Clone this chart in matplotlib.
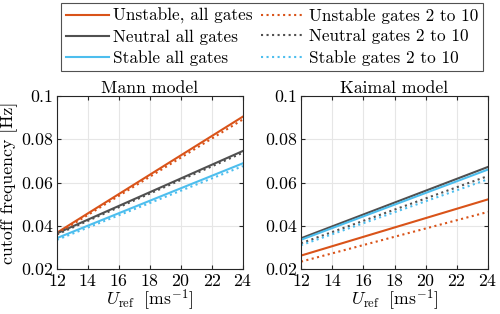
import numpy as np
import matplotlib.pyplot as plt
from matplotlib.lines import Line2D

# Wind speed range [m/s]
U_ref = [12, 24]

# Mann model cutoff frequencies [Hz]
mann_unstable_all = [0.0368, 0.0905]
mann_unstable_2to10 = [0.0362, 0.0892]
mann_neutral_all = [0.0365, 0.0746]
mann_neutral_2to10 = [0.0360, 0.0738]
mann_stable_all = [0.0343, 0.0689]
mann_stable_2to10 = [0.0335, 0.0676]

# Kaimal model cutoff frequencies [Hz]
kai_unstable_all = [0.0262, 0.0522]
kai_unstable_2to10 = [0.0234, 0.0464]
kai_neutral_all = [0.0342, 0.0672]
kai_neutral_2to10 = [0.0319, 0.0630]
kai_stable_all = [0.0335, 0.0660]
kai_stable_2to10 = [0.0310, 0.0615]

c_unst = '#D95319'
c_neut = '#505050'
c_stab = '#4DBEEE'

plt.rcParams['font.family'] = 'serif'
plt.rcParams['font.serif'] = ['cmr10']
plt.rcParams['mathtext.fontset'] = 'cm'
plt.rcParams['axes.formatter.use_mathtext'] = True
fs = 12.8

fig = plt.figure(figsize=(5, 3.14), dpi=100)
ax1 = fig.add_axes([57/500, 1-269/314, 186/500, 173/314])
ax2 = fig.add_axes([301/500, 1-269/314, 187/500, 173/314])

panels = [
    (ax1, 'Mann model', [mann_unstable_all, mann_neutral_all, mann_stable_all],
     [mann_unstable_2to10, mann_neutral_2to10, mann_stable_2to10]),
    (ax2, 'Kaimal model', [kai_unstable_all, kai_neutral_all, kai_stable_all],
     [kai_unstable_2to10, kai_neutral_2to10, kai_stable_2to10]),
]
colors = [c_unst, c_neut, c_stab]

for ax, title, solid, dotted in panels:
    for vals, c in zip(solid, colors):
        ax.plot(U_ref, vals, color=c, lw=1.5)
    for vals, c in zip(dotted, colors):
        ax.plot(U_ref, vals, color=c, lw=1.5, ls=':')
    ax.set_xlim(12, 24)
    ax.set_ylim(0.02, 0.1)
    ax.set_xticks([12, 14, 16, 18, 20, 22, 24])
    ax.set_yticks([0.02, 0.04, 0.06, 0.08, 0.1])
    ax.set_yticklabels(['0.02', '0.04', '0.06', '0.08', '0.1'])
    ax.grid(True, color='#E6E6E6', lw=0.8)
    ax.set_axisbelow(True)
    ax.tick_params(direction='in', top=True, right=True, length=3,
                   color='#262626', labelsize=fs)
    ax.tick_params(axis='x', pad=3)
    ax.tick_params(axis='y', pad=3)
    for s in ax.spines.values():
        s.set_color('#262626')
        s.set_linewidth(0.8)
    ax.set_title(title, fontsize=fs, pad=2)
    ax.set_xlabel(r'$U_\mathrm{ref}\ \ [\mathrm{ms}^{-1}]$', fontsize=fs, labelpad=-1)

ax1.set_ylabel('cutoff frequency [Hz]', fontsize=fs, labelpad=2)

handles = [
    Line2D([], [], color=c_unst, lw=1.5), Line2D([], [], color=c_neut, lw=1.5),
    Line2D([], [], color=c_stab, lw=1.5),
    Line2D([], [], color=c_unst, lw=1.5, ls=':'), Line2D([], [], color=c_neut, lw=1.5, ls=':'),
    Line2D([], [], color=c_stab, lw=1.5, ls=':'),
]
labels = ['Unstable, all gates', 'Neutral all gates', 'Stable all gates',
          'Unstable gates 2 to 10', 'Neutral gates 2 to 10', 'Stable gates 2 to 10']
leg = fig.legend(handles, labels, ncol=2, loc='upper center',
                 bbox_to_anchor=(272/500, 1-3/314),
                 fontsize=12.4, frameon=True, fancybox=False, edgecolor='#262626',
                 handlelength=2.5, handletextpad=0.25, columnspacing=0.5,
                 labelspacing=0.32, borderpad=0.28, borderaxespad=0)
leg.get_frame().set_linewidth(0.8)

fig.savefig('out.png', dpi=100)
